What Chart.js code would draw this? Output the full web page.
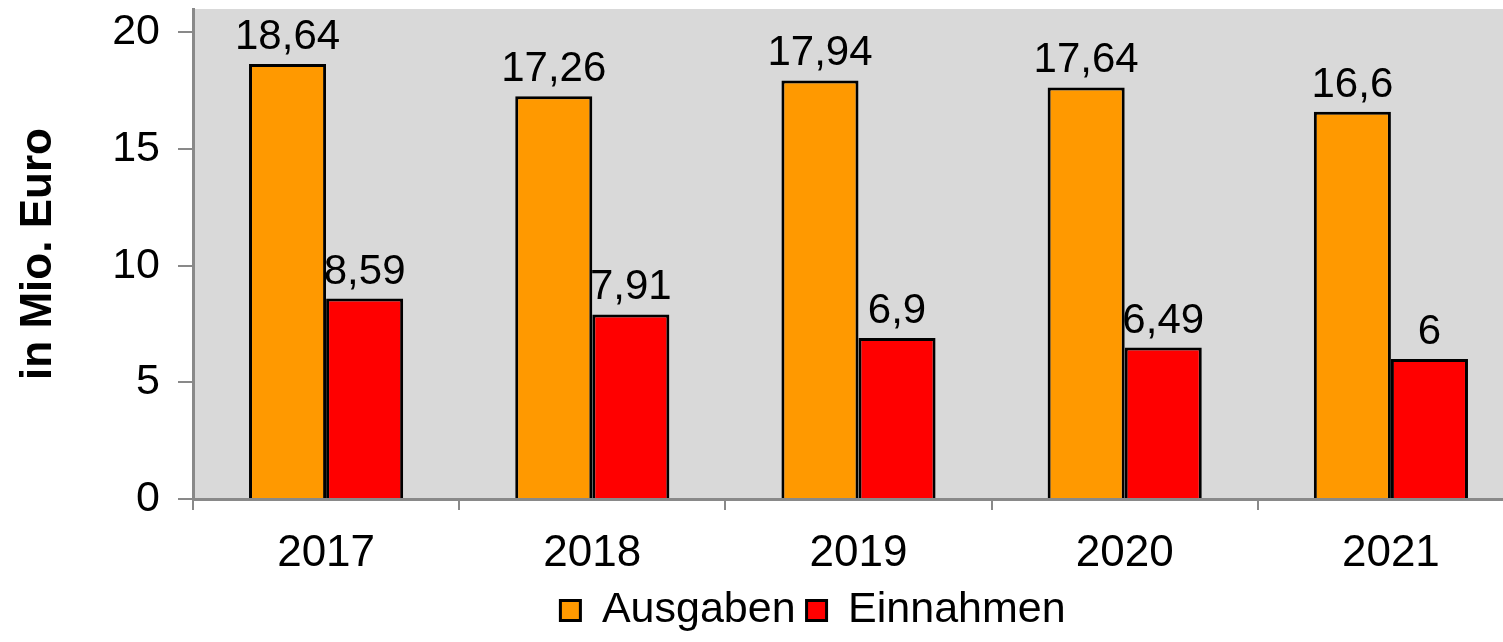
<!DOCTYPE html>
<html>
<head>
<meta charset="utf-8">
<script src="https://cdn.jsdelivr.net/npm/chart.js@4"></script>
<style>
  html, body { margin: 0; padding: 0; background: #fff; overflow: hidden; }
  /* Plotbereich ragt im Original rechts aus dem Bild, daher etwas breiter */
  #wrap { width: 1524px; height: 642px; }
</style>
</head>
<body>
<div id="wrap"><canvas id="chart"></canvas></div>
<script>
// Werte
const years = ['2017', '2018', '2019', '2020', '2021']
const ausgaben = [18.64, 17.26, 17.94, 17.64, 16.6]
const einnahmen = [8.59, 7.91, 6.9, 6.49, 6]
const yTicks = [0, 5, 10, 15, 20]

const axisGray = '#898989'

Chart.defaults.font.family = '"Liberation Sans", Arial, sans-serif'
Chart.defaults.color = '#000'

// grauer Hintergrund nur im Plotbereich
const plotBackground = {
    id: 'plotBackground',
    beforeDraw(chart) {
        const a = chart.chartArea
        const ctx = chart.ctx
        ctx.save()
        ctx.fillStyle = '#d9d9d9'
        ctx.fillRect(a.left, a.top, a.right - a.left, a.bottom - a.top)
        ctx.restore()
    }
}

// Beschriftung über den Balken (mit Komma)
const valueLabels = {
    id: 'valueLabels',
    afterDatasetsDraw(chart) {
        const ctx = chart.ctx
        ctx.save()
        ctx.font = '42px "Liberation Sans", Arial, sans-serif'
        ctx.fillStyle = '#000'
        ctx.textAlign = 'center'
        ctx.textBaseline = 'alphabetic'
        chart.data.datasets.forEach((ds, i) => {
            chart.getDatasetMeta(i).data.forEach((bar, j) => {
                const txt = String(ds.data[j]).replace('.', ',')
                ctx.fillText(txt, bar.x, bar.y - 15)
            })
        })
        ctx.restore()
    }
}

// Legende etwas nach rechts schieben wie im Original
const legendShift = {
    id: 'legendShift',
    afterLayout(chart) {
        chart.legend.left += 51
        chart.legend.right += 51
    }
}

const data = {
    labels: years,
    datasets: [{
        label: 'Ausgaben',
        data: ausgaben,
        backgroundColor: '#ff9900',
        borderColor: '#000',
        borderWidth: 3
    }, {
        label: 'Einnahmen',
        data: einnahmen,
        backgroundColor: '#ff0000',
        borderColor: '#000',
        borderWidth: 3
    }]
}

const config = {
    type: 'bar',
    data: data,
    options: {
        responsive: true,
        maintainAspectRatio: false,
        animation: false,
        datasets: {
            bar: {
                categoryPercentage: 0.579,
                barPercentage: 1
            }
        },
        layout: {
            padding: { top: 9, right: 0, bottom: 0, left: 0 }
        },
        scales: {
            x: {
                grid: {
                    display: true,
                    drawOnChartArea: false,
                    drawTicks: true,
                    tickLength: 11,
                    color: axisGray,
                    lineWidth: 2,
                    offset: true
                },
                border: { color: axisGray, width: 3 },
                ticks: {
                    font: { size: 44 },
                    color: '#000',
                    padding: 17
                },
                afterFit: scale => {
                    scale.height = 79
                    scale.paddingLeft = 0
                    scale.paddingRight = 0
                }
            },
            y: {
                min: 0,
                max: 21,
                grid: {
                    drawOnChartArea: false,
                    drawTicks: true,
                    tickLength: 15,
                    color: axisGray,
                    lineWidth: 2
                },
                border: { color: axisGray, width: 3 },
                ticks: {
                    font: { size: 43 },
                    color: '#000',
                    padding: 18
                },
                afterBuildTicks: scale => {
                    scale.ticks = yTicks.map(v => ({ value: v }))
                },
                title: {
                    display: true,
                    text: 'in Mio. Euro',
                    font: { size: 44, weight: 'bold' },
                    color: '#000',
                    padding: { top: 12, bottom: 0 }
                },
                afterFit: scale => {
                    scale.width = 193
                    scale.paddingTop = 0
                    scale.paddingBottom = 0
                }
            }
        },
        plugins: {
            legend: {
                position: 'bottom',
                labels: {
                    boxWidth: 20,
                    boxHeight: 20,
                    padding: 11,
                    color: '#000',
                    font: { size: 43 }
                }
            },
            tooltip: { enabled: false },
            title: { display: false }
        }
    },
    plugins: [plotBackground, valueLabels, legendShift]
}

const myChart = new Chart(document.getElementById('chart'), config)
</script>
</body>
</html>
